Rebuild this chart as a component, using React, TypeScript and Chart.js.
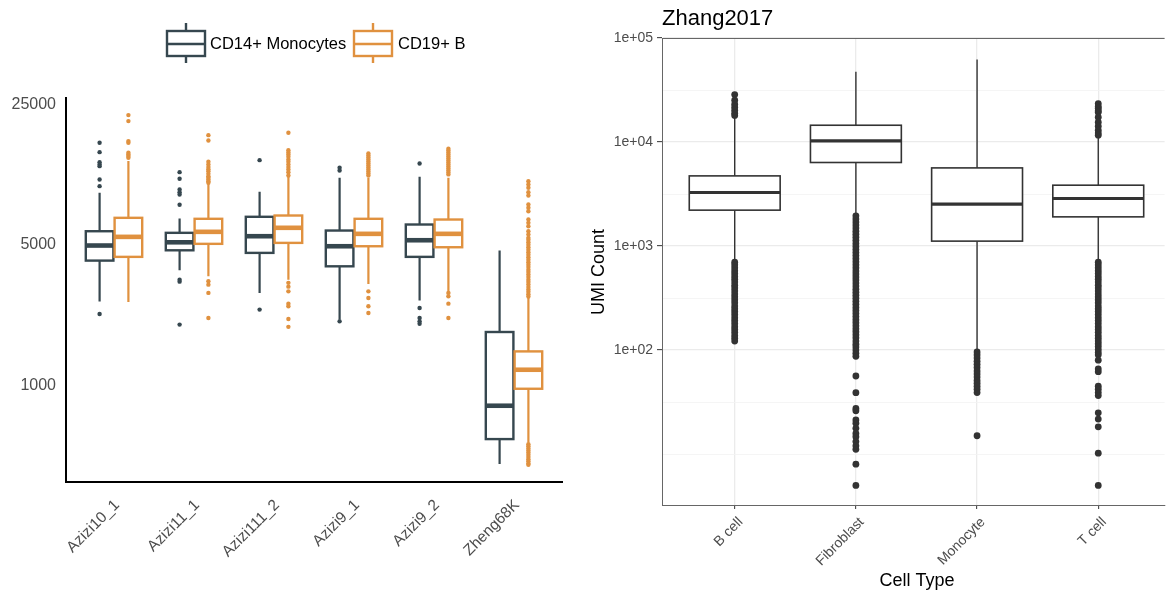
import React, { useEffect, useRef } from 'react';
import { Chart, registerables } from 'chart.js';

Chart.register(...registerables);

const FONT = '"Liberation Sans", Arial, Helvetica, sans-serif';
const MONO_COLOR = '#36474f';
const BCELL_COLOR = '#e0913f';
const UMI_COLOR = '#333333';

// ---------- Left panel: counts per dataset, two cell populations ----------
const datasetNames = ['Azizi10_1', 'Azizi11_1', 'Azizi111_2', 'Azizi9_1', 'Azizi9_2', 'Zheng68K'];
const seriesNames = ['CD14+ Monocytes', 'CD19+ B'];
const countTicks = [1000, 5000, 25000];

const monoLow = [2570, 3670, 2835, 2085, 2595, 398];
const monoQ1 = [4105, 4620, 4485, 3845, 4285, 530];
const monoMed = [4880, 5065, 5430, 4840, 5185, 777];
const monoQ3 = [5750, 5645, 6785, 5795, 6210, 1810];
const monoHigh = [8930, 6650, 9040, 10615, 10740, 4605];
const monoOutliers = [
  [15860, 14240, 12700, 12370, 12130, 10410, 9640, 2225],
  [11320, 10495, 9280, 8995, 8760, 7790, 3300, 3225, 1970],
  [12990, 2340],
  [11910, 11540, 2045],
  [12510, 2385, 2125, 2045, 1990],
  [],
];

const bcellLow = [2555, 3430, 3300, 3140, 2885, 510];
const bcellQ1 = [4285, 4975, 5030, 4840, 4785, 944];
const bcellMed = [5390, 5710, 5980, 5580, 5580, 1174];
const bcellQ3 = [6705, 6630, 6885, 6630, 6575, 1449];
const bcellHigh = [12850, 9910, 10810, 10615, 10615, 2680];
const bcellOutliers = [
  [21780, 20330, 16160, 15860, 14150, 13870, 13610, 13360],
  [17310, 16290, 12760, 12370, 12000, 11700, 11450, 11100, 10800, 10620, 10410, 10200, 10020, 3240, 3115, 2835, 2125],
  [17800, 14570, 14200, 13870, 13500, 13100, 12750, 12370, 12000, 11680, 11300, 10900, 3180, 3045, 2885, 2505, 2430, 2100, 1920],
  [14030, 13710, 13400, 13100, 12800, 12500, 12230, 11950, 11680, 11400, 11150, 10900, 2885, 2675, 2430, 2250],
  [14810, 14500, 14200, 13870, 13550, 13250, 12950, 12650, 12350, 12090, 11800, 11540, 11280, 11030, 2835, 2725, 2505, 2125],
  [10210, 9830, 9465, 8995, 8665, 7810, 7520, 7235, 6575, 6330, 6090, 5750, 5535, 5330, 5220, 5070, 4930, 4790,
    4650, 4520, 4390, 4270, 4150, 4030, 3920, 3810, 3700, 3600, 3500, 3400, 3300, 3210, 3120, 3030, 2950, 2870,
    2790, 2720, 500, 488, 476, 465, 454, 443, 432, 421, 411, 401, 395],
];

// ---------- Right panel: Zhang2017 UMI counts per cell type ----------
const cellTypes = ['B cell', 'Fibroblast', 'Monocyte', 'T cell'];
const umiBreaks = [100, 1000, 10000, 100000];
const umiBreakLabels = ['1e+02', '1e+03', '1e+04', '1e+05'];
const umiMinorBreaks = [10, 31.62, 316.2, 3162, 31623];

const umiLow = [700, 2000, 100, 705];
const umiQ1 = [2213, 6356, 1115, 1908];
const umiMed = [3273, 10245, 2526, 2866];
const umiQ3 = [4725, 14500, 5639, 3846];
const umiHigh = [17400, 47500, 62000, 11000];
const umiOutliers = [
  [28600, 25200, 23070, 21590, 20210, 18910, 18010,
    700, 660, 620, 580, 545, 510, 480, 450, 420, 395, 370, 345, 325, 305, 285, 265, 250, 235, 220, 205,
    192, 180, 168, 158, 148, 138, 130, 122],
  [1950, 1820, 1700, 1590, 1490, 1390, 1300, 1215, 1135, 1060, 990, 925, 865, 810, 755, 705, 660, 617, 577,
    540, 505, 472, 441, 412, 385, 360, 337, 315, 294, 275, 257, 240, 225, 210, 196, 183, 171, 160, 150, 140,
    131, 122, 114, 107, 100, 93, 87, 56.3, 38.9, 27.5, 26.1, 21.3, 19.8, 17.7, 15.8, 14.7, 13.2, 12.0, 11.1, 8.0, 5.0],
  [96, 90, 84, 78, 73, 68, 63, 59, 55, 51, 48, 45, 42, 39, 15],
  [23440, 22000, 21120, 20000, 19330, 17300, 15500, 14190, 13000, 12200, 11640,
    700, 660, 620, 580, 545, 510, 480, 450, 420, 395, 370, 345, 325, 305, 285, 265, 250, 235, 220, 205,
    192, 180, 168, 158, 148, 138, 130, 122, 115, 108, 101, 95, 90, 80, 66, 62, 45, 42, 39, 36.5, 24.9,
    21.7, 18.3, 10.2, 5.0],
];

interface BoxLayer {
  low: number[];
  q1: number[];
  med: number[];
  q3: number[];
  high: number[];
  shift: number;
  width: number;
  color: string;
  lineWidth: number;
  whiskerWidth: number;
  medianWidth: number;
}

// Draws box, whiskers and median for each category through the chart's scales.
function boxPlotPlugin(id: string, layers: BoxLayer[]) {
  return {
    id,
    beforeDatasetsDraw(chart: any) {
      const { ctx, chartArea } = chart;
      const xs = chart.scales.x;
      const ys = chart.scales.y;
      ctx.save();
      ctx.beginPath();
      ctx.rect(chartArea.left, chartArea.top, chartArea.right - chartArea.left, chartArea.bottom - chartArea.top);
      ctx.clip();
      for (const L of layers) {
        L.med.forEach((m, i) => {
          const c = i + 1 + L.shift;
          const xl = xs.getPixelForValue(c - L.width / 2);
          const xr = xs.getPixelForValue(c + L.width / 2);
          const xc = xs.getPixelForValue(c);
          const yLow = ys.getPixelForValue(L.low[i]);
          const yQ1 = ys.getPixelForValue(L.q1[i]);
          const yMed = ys.getPixelForValue(m);
          const yQ3 = ys.getPixelForValue(L.q3[i]);
          const yHigh = ys.getPixelForValue(L.high[i]);
          ctx.strokeStyle = L.color;
          ctx.lineCap = 'butt';
          ctx.lineWidth = L.whiskerWidth;
          ctx.beginPath();
          ctx.moveTo(xc, yHigh);
          ctx.lineTo(xc, yQ3);
          ctx.moveTo(xc, yQ1);
          ctx.lineTo(xc, yLow);
          ctx.stroke();
          ctx.fillStyle = '#ffffff';
          ctx.fillRect(xl, yQ3, xr - xl, yQ1 - yQ3);
          ctx.lineWidth = L.lineWidth;
          ctx.strokeRect(xl, yQ3, xr - xl, yQ1 - yQ3);
          ctx.lineWidth = L.medianWidth;
          ctx.beginPath();
          ctx.moveTo(xl, yMed);
          ctx.lineTo(xr, yMed);
          ctx.stroke();
        });
      }
      ctx.restore();
    },
  };
}

function toPoints(groups: number[][], shift: number) {
  const pts: { x: number; y: number }[] = [];
  groups.forEach((vals, i) => vals.forEach((v) => pts.push({ x: i + 1 + shift, y: v })));
  return pts;
}

// Legend with small boxplot glyphs above the left panel.
const countsLegend = {
  id: 'countsLegend',
  afterDraw(chart: any) {
    const { ctx } = chart;
    const items = [
      { x: 167, color: MONO_COLOR, label: seriesNames[0], tx: 210 },
      { x: 354, color: BCELL_COLOR, label: seriesNames[1], tx: 398 },
    ];
    ctx.save();
    for (const it of items) {
      ctx.strokeStyle = it.color;
      ctx.lineWidth = 2.4;
      const cx = it.x + 19;
      ctx.beginPath();
      ctx.moveTo(cx, 23);
      ctx.lineTo(cx, 31);
      ctx.moveTo(cx, 56);
      ctx.lineTo(cx, 63);
      ctx.stroke();
      ctx.strokeRect(it.x, 31, 38, 25);
      ctx.beginPath();
      ctx.moveTo(it.x, 44);
      ctx.lineTo(it.x + 38, 44);
      ctx.stroke();
      ctx.fillStyle = '#000000';
      ctx.font = `16.5px ${FONT}`;
      ctx.textAlign = 'left';
      ctx.textBaseline = 'middle';
      ctx.fillText(it.label, it.tx, 44.5);
    }
    ctx.restore();
  },
};

// Title, axis titles and top border of the right panel.
const umiDecor = {
  id: 'umiDecor',
  afterDraw(chart: any) {
    const { ctx, chartArea } = chart;
    ctx.save();
    ctx.strokeStyle = '#666666';
    ctx.lineWidth = 1;
    ctx.beginPath();
    ctx.moveTo(chartArea.left, chartArea.top + 0.5);
    ctx.lineTo(chartArea.right, chartArea.top + 0.5);
    ctx.stroke();
    ctx.fillStyle = '#000000';
    ctx.textBaseline = 'alphabetic';
    ctx.textAlign = 'left';
    ctx.font = `22px ${FONT}`;
    ctx.fillText('Zhang2017', 82, 25);
    ctx.font = `18px ${FONT}`;
    ctx.textAlign = 'center';
    ctx.fillText('Cell Type', 337, 586);
    ctx.translate(24, 272);
    ctx.rotate(-Math.PI / 2);
    ctx.fillText('UMI Count', 0, 0);
    ctx.restore();
  },
};

function CountsChart() {
  const ref = useRef<HTMLCanvasElement>(null);
  useEffect(() => {
    const chart = new Chart(ref.current as HTMLCanvasElement, {
      type: 'scatter',
      data: {
        datasets: [
          {
            label: seriesNames[0],
            data: toPoints(monoOutliers, -0.18),
            pointRadius: 2.2,
            pointHoverRadius: 2.2,
            pointBackgroundColor: MONO_COLOR,
            pointBorderWidth: 0,
          },
          {
            label: seriesNames[1],
            data: toPoints(bcellOutliers, 0.18),
            pointRadius: 2.2,
            pointHoverRadius: 2.2,
            pointBackgroundColor: BCELL_COLOR,
            pointBorderWidth: 0,
          },
        ],
      },
      options: {
        responsive: false,
        maintainAspectRatio: false,
        animation: false,
        devicePixelRatio: 1,
        events: [],
        layout: { padding: { top: 98, right: 18, left: 0, bottom: 0 } },
        plugins: { legend: { display: false }, tooltip: { enabled: false } },
        scales: {
          x: {
            type: 'linear',
            min: 0.4,
            max: 6.6,
            afterBuildTicks: (s: any) => {
              s.ticks = datasetNames.map((_, i) => ({ value: i + 1 }));
            },
            afterFit: (s: any) => {
              s.height = 111;
            },
            grid: { display: false, drawTicks: false },
            border: { display: true, color: '#000000', width: 2 },
            ticks: {
              autoSkip: false,
              maxRotation: 45,
              minRotation: 45,
              padding: 14,
              labelOffset: 3,
              color: '#4d4d4d',
              font: { size: 15.5, family: FONT },
              callback: (_v: any, i: number) => datasetNames[i],
            },
          },
          y: {
            type: 'logarithmic',
            min: 324,
            max: 26500,
            afterBuildTicks: (s: any) => {
              s.ticks = countTicks.map((v) => ({ value: v }));
            },
            afterFit: (s: any) => {
              s.width = 66;
            },
            grid: { display: false, drawTicks: false },
            border: { display: true, color: '#000000', width: 2 },
            ticks: {
              padding: 10,
              labelOffset: 1.5,
              color: '#4d4d4d',
              font: { size: 16, family: FONT },
              callback: (v: any) => String(v),
            },
          },
        },
      } as any,
      plugins: [
        boxPlotPlugin('countBoxes', [
          { low: monoLow, q1: monoQ1, med: monoMed, q3: monoQ3, high: monoHigh, shift: -0.18, width: 0.345,
            color: MONO_COLOR, lineWidth: 2.4, whiskerWidth: 2.2, medianWidth: 4.6 },
          { low: bcellLow, q1: bcellQ1, med: bcellMed, q3: bcellQ3, high: bcellHigh, shift: 0.18, width: 0.345,
            color: BCELL_COLOR, lineWidth: 2.4, whiskerWidth: 2.2, medianWidth: 4.6 },
        ]),
        countsLegend,
      ],
    });
    return () => chart.destroy();
  }, []);
  return (
    <canvas ref={ref} width={580} height={593}
      style={{ position: 'absolute', left: 0, top: 0, width: 580, height: 593 }} />
  );
}

function UmiChart() {
  const ref = useRef<HTMLCanvasElement>(null);
  useEffect(() => {
    const isMajor = (v: number) => umiBreaks.includes(v);
    const chart = new Chart(ref.current as HTMLCanvasElement, {
      type: 'scatter',
      data: {
        datasets: [
          {
            label: 'UMI Count',
            data: toPoints(umiOutliers, 0),
            pointRadius: 3.4,
            pointHoverRadius: 3.4,
            pointBackgroundColor: UMI_COLOR,
            pointBorderWidth: 0,
          },
        ],
      },
      options: {
        responsive: false,
        maintainAspectRatio: false,
        animation: false,
        devicePixelRatio: 1,
        events: [],
        layout: { padding: { top: 38, right: 0, left: 0, bottom: 0 } },
        plugins: { legend: { display: false }, tooltip: { enabled: false } },
        scales: {
          x: {
            type: 'linear',
            min: 0.4,
            max: 4.5475,
            afterBuildTicks: (s: any) => {
              s.ticks = cellTypes.map((_, i) => ({ value: i + 1 }));
            },
            afterFit: (s: any) => {
              s.height = 88;
            },
            grid: { color: '#ebebeb', lineWidth: 1.3, drawTicks: true, tickLength: 4, tickColor: '#333333', tickWidth: 1 },
            border: { display: true, color: '#666666', width: 1 },
            ticks: {
              autoSkip: false,
              maxRotation: 45,
              minRotation: 45,
              padding: 5,
              labelOffset: 6,
              color: '#4d4d4d',
              font: { size: 14, family: FONT },
              callback: (_v: any, i: number) => cellTypes[i],
            },
          },
          y: {
            type: 'logarithmic',
            min: 3.24,
            max: 100000,
            afterBuildTicks: (s: any) => {
              s.ticks = [...umiMinorBreaks, ...umiBreaks].sort((a, b) => a - b).map((v) => ({ value: v }));
            },
            afterFit: (s: any) => {
              s.width = 82;
            },
            grid: {
              color: (c: any) => (c.tick && isMajor(c.tick.value) ? '#ebebeb' : '#f2f2f2'),
              lineWidth: (c: any) => (c.tick && isMajor(c.tick.value) ? 1.3 : 0.8),
              tickColor: (c: any) => (c.tick && isMajor(c.tick.value) ? '#333333' : 'rgba(0,0,0,0)'),
              tickLength: 5,
              tickWidth: 1,
              drawTicks: true,
            },
            border: { display: true, color: '#666666', width: 1 },
            ticks: {
              padding: 4,
              color: '#4d4d4d',
              font: { size: 14, family: FONT },
              callback: (v: any) => {
                const k = umiBreaks.indexOf(v);
                return k >= 0 ? umiBreakLabels[k] : '';
              },
            },
          },
        },
      } as any,
      plugins: [
        boxPlotPlugin('umiBoxes', [
          { low: umiLow, q1: umiQ1, med: umiMed, q3: umiQ3, high: umiHigh, shift: 0, width: 0.75,
            color: UMI_COLOR, lineWidth: 1.6, whiskerWidth: 1.4, medianWidth: 3.2 },
        ]),
        umiDecor,
      ],
    });
    return () => chart.destroy();
  }, []);
  return (
    <canvas ref={ref} width={588} height={593}
      style={{ position: 'absolute', left: 580, top: 0, width: 588, height: 593 }} />
  );
}

export default function App() {
  useEffect(() => {
    document.body.style.margin = '0';
  }, []);
  return (
    <div style={{ position: 'fixed', left: 0, top: 0, width: 1168, height: 593, background: '#ffffff', overflow: 'hidden' }}>
      <CountsChart />
      <UmiChart />
    </div>
  );
}
